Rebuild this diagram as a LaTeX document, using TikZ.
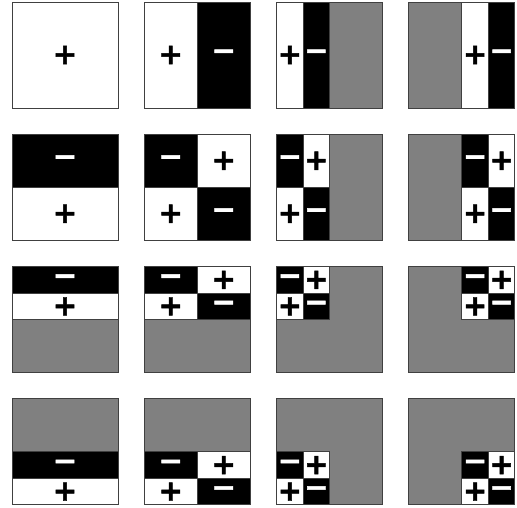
\documentclass[tikz,border=0pt]{standalone}
\usepackage{fontspec}
\newfontfamily\signfont{DejaVu Sans Bold}[FakeBold=1.6]

\begin{document}
\begin{tikzpicture}[
  x=1pt, y=-1pt,
  cell/.style={draw=black!75, line width=0.9pt},
  poscell/.style={cell, fill=white},
  negcell/.style={cell, fill=black},
  restcell/.style={cell, fill=black!50},
  sign/.style={font=\signfont\fontsize{29}{29}\selectfont, inner sep=0pt}
]
  \useasboundingbox (0,0) rectangle (517,508);

  % rows: vertical cells (top, bottom, sign); columns: horizontal cells
  \foreach \r/\vcells in {1/{0/1/1}, 2/{0/0.5/-1,0.5/1/1},
                          3/{0/0.25/-1,0.25/0.5/1}, 4/{0.5/0.75/-1,0.75/1/1}} {
    \foreach \c/\hcells in {1/{0/1/1}, 2/{0/0.5/1,0.5/1/-1},
                            3/{0/0.25/1,0.25/0.5/-1}, 4/{0.5/0.75/1,0.75/1/-1}} {
      \pgfmathsetmacro\ox{12+(\c-1)*132.3}
      \pgfmathsetmacro\oy{2+(\r-1)*132.3}
      % grey backdrop of the tile
      \draw[restcell] (\ox,\oy) rectangle ++(106,106);
      \foreach \xa/\xb/\xs [count=\i] in \hcells {
        \foreach \ya/\yb/\ys [count=\j] in \vcells {
          \pgfmathtruncatemacro\sgn{\xs*\ys}
          \ifnum\sgn>0
            \draw[poscell] ({\ox+\xa*106},{\oy+\ya*106}) rectangle ({\ox+\xb*106},{\oy+\yb*106});
            \node[sign, text=black] (sg-\r-\c-\i-\j)
              at ({\ox+(\xa+\xb)*53},{\oy+(\ya+\yb)*53}) {+};
          \else
            \draw[negcell] ({\ox+\xa*106},{\oy+\ya*106}) rectangle ({\ox+\xb*106},{\oy+\yb*106});
            \node[sign, text=white] (sg-\r-\c-\i-\j)
              at ({\ox+(\xa+\xb)*53},{\oy+(\ya+\yb)*53}) {−};
          \fi
        }
      }
    }
  }
\end{tikzpicture}
\end{document}
